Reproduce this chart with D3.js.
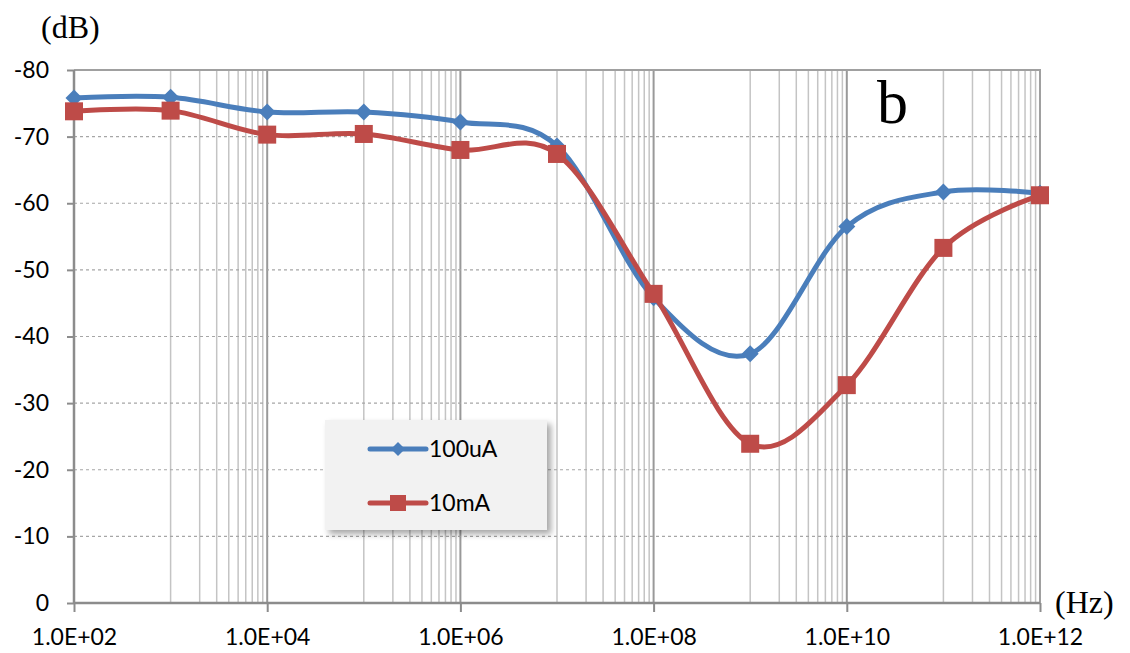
<!DOCTYPE html>
<html>
<head>
<meta charset="utf-8">
<script src="https://cdn.jsdelivr.net/npm/d3@7"></script>
<style>
  body { margin: 0; background: #fff; }
  .axis text { font-family: Lato, "Open Sans", sans-serif; font-size: 23px; fill: #000; }
  .legend text { font-family: Lato, "Open Sans", sans-serif; font-size: 23px; fill: #000; }
  .unit { font-family: "Liberation Serif", "Times New Roman", serif; fill: #000; }
</style>
</head>
<body>
<div id="chart"></div>
<script>
var freqs = [1e2, 1e3, 1e4, 1e5, 1e6, 1e7, 1e8, 1e9, 1e10, 1e11, 1e12];
var seriesNames = ['100uA', '10mA'];
var values100uA = [-75.8, -75.9, -73.7, -73.7, -72.2, -68.6, -45.8, -37.4, -56.5, -61.7, -61.5];
var values10mA = [-73.8, -73.9, -70.3, -70.4, -68.0, -67.4, -46.4, -23.9, -32.7, -53.3, -61.2];
var yTicks = [0, -10, -20, -30, -40, -50, -60, -70, -80];
var xMajor = [1e2, 1e4, 1e6, 1e8, 1e10, 1e12];
var xTickLabels = ['1.0E+02', '1.0E+04', '1.0E+06', '1.0E+08', '1.0E+10', '1.0E+12'];

var width = 1130, height = 653;
var margin = {top: 70, right: 90, bottom: 50, left: 74};
var plotW = width - margin.left - margin.right;
var plotH = height - margin.top - margin.bottom;

var x = d3.scaleLog().domain([1e2, 1e12]).range([0, plotW]);
var y = d3.scaleLinear().domain([0, -80]).range([plotH, 0]);

var svg = d3.select('#chart').append('svg')
  .attr('width', width)
  .attr('height', height);

var defs = svg.append('defs');
var shadow = defs.append('filter').attr('id', 'shadow')
  .attr('x', '-10%').attr('y', '-10%').attr('width', '130%').attr('height', '140%');
shadow.append('feDropShadow')
  .attr('dx', 4).attr('dy', 4).attr('stdDeviation', 3)
  .attr('flood-color', '#000').attr('flood-opacity', 0.35);

var g = svg.append('g')
  .attr('transform', 'translate(' + margin.left + ',' + margin.top + ')');

// minor vertical grid: only inside the odd decades (1..9 x 10^odd)
var minor = [];
for (var k = 3; k < 12; k += 2) {
  for (var m = 1; m <= 9; m++) minor.push(m * Math.pow(10, k));
}
g.append('g').selectAll('line').data(minor).enter().append('line')
  .attr('x1', function(d) { return x(d); })
  .attr('x2', function(d) { return x(d); })
  .attr('y1', 0).attr('y2', plotH)
  .attr('stroke', '#c4c4c4').attr('stroke-width', 1.5);

g.append('g').selectAll('line').data(xMajor).enter().append('line')
  .attr('x1', function(d) { return x(d); })
  .attr('x2', function(d) { return x(d); })
  .attr('y1', 0).attr('y2', plotH)
  .attr('stroke', '#999').attr('stroke-width', 2);

// horizontal dashed grid
g.append('g').selectAll('line').data(yTicks.slice(1, -1)).enter().append('line')
  .attr('x1', 0).attr('x2', plotW)
  .attr('y1', function(d) { return y(d); })
  .attr('y2', function(d) { return y(d); })
  .attr('stroke', '#a6a6a6').attr('stroke-width', 1.2)
  .attr('stroke-dasharray', '3,3');

// plot border (top, right)
g.append('path')
  .attr('d', 'M0,0H' + plotW + 'V' + plotH)
  .attr('fill', 'none').attr('stroke', '#a0a0a0').attr('stroke-width', 2);

var yAxis = d3.axisLeft(y).tickValues(yTicks).tickSize(7).tickPadding(18)
  .tickFormat(function(d) { return d; });
var xAxis = d3.axisBottom(x).tickValues(xMajor).tickSize(9).tickPadding(17)
  .tickFormat(function(d, i) { return xTickLabels[i]; });

var ya = g.append('g').attr('class', 'y axis').call(yAxis);
var xa = g.append('g').attr('class', 'x axis')
  .attr('transform', 'translate(0,' + plotH + ')').call(xAxis);

[ya, xa].forEach(function(a) {
  a.select('.domain').attr('stroke', '#8c8c8c').attr('stroke-width', 2.5);
  a.selectAll('.tick line').attr('stroke', '#8c8c8c').attr('stroke-width', 2);
});
xa.select('.domain').attr('d', 'M0,0H' + plotW);
ya.select('.domain').attr('d', 'M0,0V' + plotH);

// series
var series = [
  {name: seriesNames[0], values: values100uA, color: '#4a7ebb', marker: 'diamond'},
  {name: seriesNames[1], values: values10mA, color: '#be4b48', marker: 'square'}
];

var line = d3.line()
  .x(function(d) { return x(d[0]); })
  .y(function(d) { return y(d[1]); })
  .curve(d3.curveCatmullRom.alpha(0));

function drawMarker(sel, type, color, s) {
  if (type === 'diamond') {
    sel.append('path')
      .attr('d', 'M0,' + (-s) + 'L' + s + ',0L0,' + s + 'L' + (-s) + ',0Z')
      .attr('fill', color);
  } else {
    sel.append('rect')
      .attr('x', -s).attr('y', -s).attr('width', 2 * s).attr('height', 2 * s)
      .attr('fill', color);
  }
}

series.forEach(function(s) {
  var pts = freqs.map(function(f, i) { return [f, s.values[i]]; });
  g.append('path')
    .datum(pts)
    .attr('d', line)
    .attr('fill', 'none')
    .attr('stroke', s.color)
    .attr('stroke-width', 5)
    .attr('stroke-linecap', 'round');
  g.append('g').selectAll('g').data(pts).enter().append('g')
    .attr('transform', function(d) { return 'translate(' + x(d[0]) + ',' + y(d[1]) + ')'; })
    .each(function() { drawMarker(d3.select(this), s.marker, s.color, s.marker === 'diamond' ? 8.5 : 9); });
});

// legend
var legend = svg.append('g').attr('class', 'legend').attr('transform', 'translate(325,420)');
legend.append('rect')
  .attr('width', 222).attr('height', 110)
  .attr('fill', '#f2f2f2')
  .attr('filter', 'url(#shadow)');
series.forEach(function(s, i) {
  var row = legend.append('g').attr('transform', 'translate(0,' + (29 + i * 54) + ')');
  row.append('line')
    .attr('x1', 45).attr('x2', 101)
    .attr('stroke', s.color).attr('stroke-width', 5).attr('stroke-linecap', 'round');
  var mk = row.append('g').attr('transform', 'translate(73,0)');
  drawMarker(mk, s.marker, s.color, s.marker === 'diamond' ? 7 : 8);
  row.append('text').attr('x', 104).attr('dy', '0.36em').text(s.name);
});

// unit labels and panel letter
svg.append('text').attr('class', 'unit').attr('x', 41).attr('y', 38)
  .style('font-size', '32px').text('(dB)');
svg.append('text').attr('class', 'unit').attr('x', 1055).attr('y', 613)
  .style('font-size', '32px').text('(Hz)');
svg.append('text').attr('class', 'unit').attr('x', 877).attr('y', 123)
  .style('font-size', '62px').text('b');
</script>
</body>
</html>
